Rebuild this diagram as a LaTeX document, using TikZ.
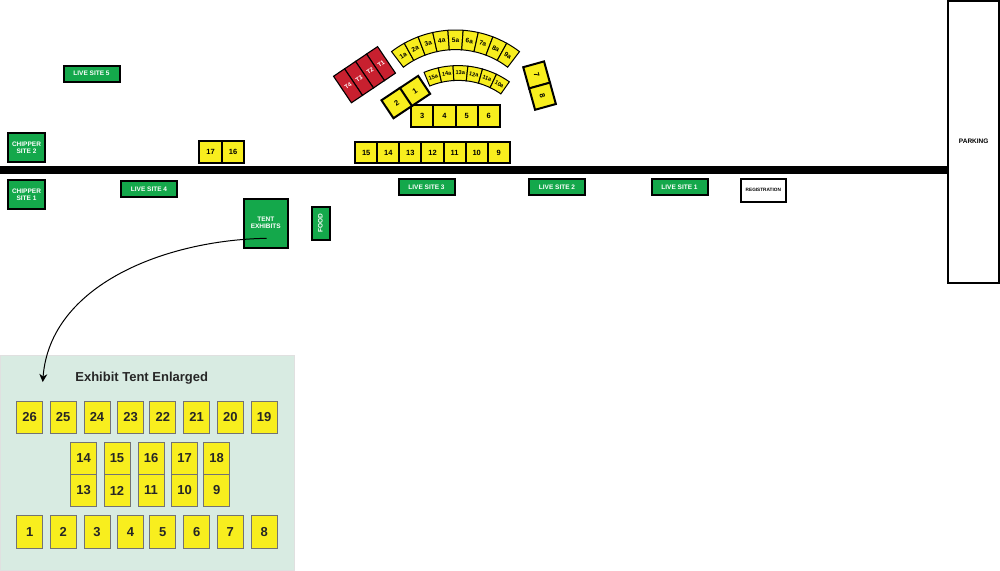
\documentclass[tikz,border=0pt]{standalone}
\usepackage{fontspec}
\setmainfont{Liberation Sans}
\usetikzlibrary{calc,arrows.meta}
\definecolor{boothyellow}{HTML}{F8EE1E}
\definecolor{sitegreen}{HTML}{14A84B}
\definecolor{tentred}{HTML}{C8202F}
\definecolor{panelgreen}{HTML}{D8EBE2}
\tikzset{
	site/.style={draw=black, line width=2pt, fill=sitegreen, text=white, font=\bfseries\fontsize{6.5}{7.5}\selectfont, align=center, inner sep=0pt},
	booth/.style={draw=black, line width=2pt, fill=boothyellow, font=\bfseries\fontsize{7.5}{8}\selectfont, inner sep=0pt, minimum width=22.2pt, minimum height=21.6pt},
	tentbooth/.style={draw=black!55, line width=0.9pt, fill=boothyellow, font=\bfseries\fontsize{13}{14}\selectfont, text=black!85, inner sep=0pt, minimum width=26pt, minimum height=32.4pt},
	redbooth/.style={draw=black, line width=1.1pt, fill=tentred, text=white, font=\bfseries\fontsize{6}{7}\selectfont, inner sep=0pt, minimum width=13.3pt, minimum height=32pt, rotate=34},
	arcbooth/.style={draw=black, line width=1pt, fill=boothyellow},
	arctext/.style={font=\bfseries\fontsize{6.5}{7}\selectfont, inner sep=0pt}
}
\begin{document}
\begin{tikzpicture}[x=1pt, y=-1pt]
	\useasboundingbox (0, 0) rectangle (1000, 570);

	%%%%% road and parking %%%%%
	\fill[black] (0, 166) rectangle (948, 174);
	\node[draw=black, line width=2pt, fill=white, minimum width=51pt, minimum height=282pt, inner sep=0pt, font=\bfseries\fontsize{6.5}{7.5}\selectfont] (parking) at (973.7, 142) {\raisebox{2pt}{PARKING}};

	%%%%% sites %%%%%
	\node[site, minimum width=36.5pt, minimum height=28.5pt] (chipper2) at (26.5, 147.7) {CHIPPER\\SITE 2};
	\node[site, minimum width=36.5pt, minimum height=28.5pt] (chipper1) at (26.5, 194.7) {CHIPPER\\SITE 1};
	\foreach \name/\xpos/\ypos/\num in {live5/91.5/73.7/5, live4/149/188.8/4, live3/426.5/187.2/3, live2/557/187.2/2, live1/679.5/187.2/1}
		\node[site, minimum width=56pt, minimum height=16pt] (\name) at (\xpos, \ypos) {LIVE SITE \num};
	\node[site, minimum width=44.5pt, minimum height=49pt] (tent) at (265.8, 223) {TENT\\EXHIBITS};
	\node[site, minimum width=33.5pt, minimum height=18pt, rotate=90] (food) at (320.5, 223.3) {FOOD};
	\node[draw=black, line width=2pt, fill=white, minimum width=45pt, minimum height=22.5pt, inner sep=0pt, font=\bfseries\fontsize{4.7}{5}\selectfont] (registration) at (763.3, 190.3) {REGISTRATION};

	%%%%% booths %%%%%
	\foreach \num/\xpos in {17/210.5, 16/233}
		\node[booth] (b\num) at (\xpos, 152.2) {\num};
	\foreach \num/\xpos in {15/366.2, 14/388.3, 13/410.4, 12/432.5, 11/454.6, 10/476.7, 9/498.8}
		\node[booth] (b\num) at (\xpos, 152.5) {\num};
	\foreach \num/\xpos in {3/422.2, 4/444.4, 5/466.6, 6/488.8}
		\node[booth] (b\num) at (\xpos, 116) {\num};
	\node[booth, rotate=33.7] (b1) at (414.9, 91) {1};
	\node[booth, rotate=33.7] (b2) at (396.7, 103.1) {2};
	\node[booth, rotate=-74.5] (b7) at (536.6, 75) {7};
	\node[booth, rotate=-74.5] (b8) at (542.5, 96.2) {8};

	%%%%% red tents %%%%%
	\foreach \num/\xpos/\ypos in {1/381/63.6, 2/370/71, 3/359/78.4, 4/348/85.8}
		\node[redbooth] (t\num) at (\xpos, \ypos) {T\num};

	%%%%% curved rows %%%%%
	\foreach \i/\lab in {0/1a, 1/2a, 2/3a, 3/4a, 4/5a, 5/6a, 6/7a, 7/8a, 8/9a} {
		\pgfmathsetmacro{\angA}{127.3-\i*8.29}
		\pgfmathsetmacro{\angB}{\angA-8.29}
		\pgfmathsetmacro{\angM}{\angA-4.145}
		\draw[arcbooth] ($(455.5, 135.6)+(\angA:105.6pt)$) arc[start angle=\angA, end angle=\angB, radius=105.6pt] -- ($(455.5, 135.6)+(\angB:86pt)$) arc[start angle=\angB, end angle=\angA, radius=86pt] -- cycle;
		\node[arctext, rotate=\angM-90] (arc\lab) at ($(455.5, 135.6)+(\angM:95.8pt)$) {\lab};
	}
	\foreach \i/\lab in {0/15a, 1/14a, 2/13a, 3/12a, 4/11a, 5/10a} {
		\pgfmathsetmacro{\angA}{112.4-\i*9.57}
		\pgfmathsetmacro{\angB}{\angA-9.57}
		\pgfmathsetmacro{\angM}{\angA-4.785}
		\draw[arcbooth] ($(458.1, 154.9)+(\angA:89.3pt)$) arc[start angle=\angA, end angle=\angB, radius=89.3pt] -- ($(458.1, 154.9)+(\angB:74.5pt)$) arc[start angle=\angB, end angle=\angA, radius=74.5pt] -- cycle;
		\node[arctext, font=\bfseries\fontsize{5.6}{6}\selectfont, rotate=\angM-90] (arc\lab) at ($(458.1, 154.9)+(\angM:81.9pt)$) {\lab};
	}

	%%%%% enlarged tent %%%%%
	\node[draw=black!12, line width=0.8pt, fill=panelgreen, minimum width=294pt, minimum height=215pt, inner sep=0pt] (panel) at (147, 462.5) {};
	\node[font=\bfseries\fontsize{13}{14}\selectfont, text=black!85] (title) at (141.7, 378) {Exhibit Tent Enlarged};
	\foreach \num/\xpos in {26/29.7, 25/63.2, 24/97, 23/130.5, 22/162.8, 21/196.7, 20/230.3, 19/264.2}
		\node[tentbooth] (e\num) at (\xpos, 417.2) {\num};
	\foreach \num/\xpos in {1/29.7, 2/63.2, 3/97, 4/130.5, 5/162.8, 6/196.7, 7/230.3, 8/264.2}
		\node[tentbooth] (e\num) at (\xpos, 532) {\num};
	\foreach \num/\xpos in {14/83.7, 15/117, 16/151, 17/184.7, 18/216.7}
		\node[tentbooth] (e\num) at (\xpos, 458.2) {\num};
	\foreach \num/\xpos in {13/83.7, 12/117, 11/151, 10/184.7, 9/216.7}
		\node[tentbooth] (e\num) at (\xpos, 490.5) {\num};

	%%%%% connector %%%%%
	\coordinate (arrowstart) at (266.7, 238.3);
	\coordinate (arrowend) at (42.7, 382);
	\draw[-{Stealth[length=8pt, width=8pt]}, line width=1pt] (arrowstart) .. controls (165, 240) and (50, 285) .. (arrowend);
\end{tikzpicture}
\end{document}
